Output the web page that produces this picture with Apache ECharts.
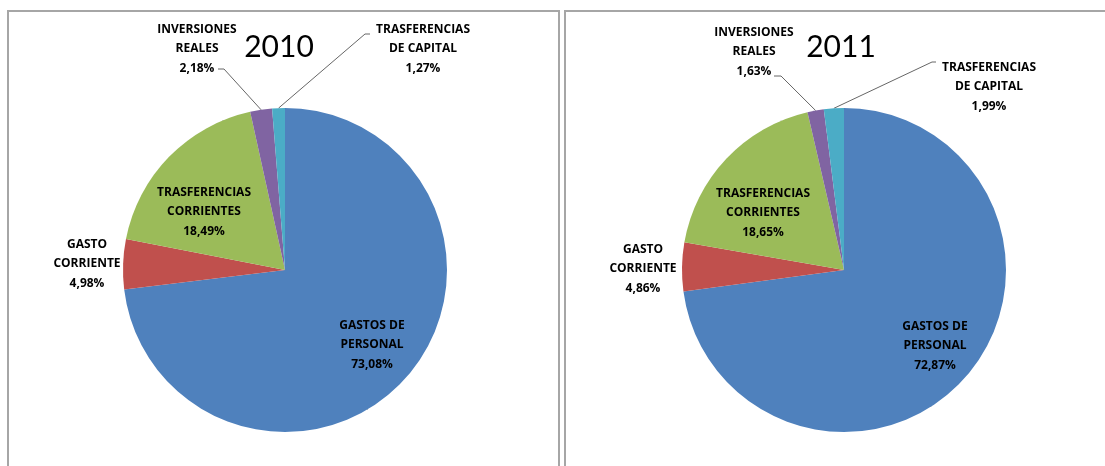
<!DOCTYPE html>
<html>
<head>
<meta charset="utf-8">
<title>Gastos 2010 - 2011</title>
<script src="https://cdn.jsdelivr.net/npm/echarts@6/dist/echarts.min.js"></script>
<style>
    html, body { margin: 0; padding: 0; background: #fff; }
    #chart { width: 1105px; height: 466px; }
</style>
</head>
<body>
<div id="chart"></div>
<script>
// categorias (el \n marca el corte de linea de la etiqueta)
const categorias = ['GASTOS DE\nPERSONAL', 'GASTO\nCORRIENTE', 'TRASFERENCIAS\nCORRIENTES', 'INVERSIONES\nREALES', 'TRASFERENCIAS\nDE CAPITAL']
const anios = ['2010', '2011']
const valores2010 = [73.08, 4.98, 18.49, 2.18, 1.27]
const valores2011 = [72.87, 4.86, 18.65, 1.63, 1.99]
const colores = ['#4F81BD', '#C0504D', '#9BBB59', '#8064A2', '#4BACC6']

// colocacion de cada tarta: centro, desplazamiento de etiquetas desde el centro,
// y lineas guia [dx enganche, dy, dx codo] relativas a la etiqueta
const tartas = [
    {
        centro: [285, 270],
        etiquetas: [[87, 75], [-198, -6], [-81, -58], [-88, -221], [138, -221]],
        guias: { 3: [21, 20, 27], 4: [-53, -15, -58] },
    },
    {
        centro: [844, 270],
        etiquetas: [[91, 76], [-201, -1], [-81, -57], [-90, -218], [145, -183]],
        guias: { 3: [20, 24, 27], 4: [-53, -25, -57] },
    },
]
const radio = 162
const fuente = '"Open Sans", Lato, sans-serif'

/* formato de la etiqueta: nombre + porcentaje con coma decimal */
function textoEtiqueta(p) {
    return p.name + '\n' + p.value.toFixed(2).replace('.', ',') + '%'
}

/* datos de una tarta */
function datosTarta(valores) {
    return valores.map((v, i) => {
        const item = { name: categorias[i], value: v, itemStyle: { color: colores[i] } }
        // las dos grandes van dentro, gasto corriente fuera sin guia
        if (i === 0 || i === 2) item.label = { position: 'inside' }
        if (i === 1) item.labelLine = { show: false }
        return item
    })
}

/* coloca las etiquetas como en la imagen */
function colocarEtiqueta(params) {
    const t = tartas[params.seriesIndex]
    const off = t.etiquetas[params.dataIndex]
    const x = t.centro[0] + off[0]
    const y = t.centro[1] + off[1]
    const res = { x: x, y: y, align: 'center', verticalAlign: 'middle' }
    const g = t.guias[params.dataIndex]
    if (g && params.labelLinePoints) {
        const p0 = params.labelLinePoints[0]
        res.labelLinePoints = [p0, [x + g[2], y + g[1]], [x + g[0], y + g[1]]]
    }
    return res
}

const series = [valores2010, valores2011].map((valores, k) => ({
    type: 'pie',
    center: tartas[k].centro,
    radius: [0, radio],
    startAngle: 90,
    clockwise: true,
    avoidLabelOverlap: false,
    minShowLabelAngle: 0,
    emphasis: { disabled: true },
    data: datosTarta(valores),
    label: {
        show: true,
        position: 'outside',
        formatter: textoEtiqueta,
        fontFamily: fuente,
        fontWeight: 'bold',
        fontSize: 12,
        lineHeight: 19.5,
        color: '#000',
        align: 'center',
    },
    labelLine: {
        show: true,
        length: 10,
        length2: 10,
        lineStyle: { color: '#666', width: 1 },
    },
    labelLayout: colocarEtiqueta,
}))

const myChart = echarts.init(document.getElementById('chart'), null, { renderer: 'canvas' })

myChart.setOption({
    animation: false,
    backgroundColor: '#fff',
    graphic: [
        // marcos de cada grafico
        { type: 'rect', shape: { x: 8, y: 11, width: 551, height: 480 }, style: { fill: 'none', stroke: '#a6a6a6', lineWidth: 2 }, silent: true },
        { type: 'rect', shape: { x: 565, y: 11, width: 560, height: 480 }, style: { fill: 'none', stroke: '#a6a6a6', lineWidth: 2 }, silent: true },
        // titulos
        { type: 'text', x: 279, y: 47, style: { text: anios[0], font: '30px Lato, sans-serif', fill: '#000', align: 'center', verticalAlign: 'middle' }, silent: true },
        { type: 'text', x: 841, y: 47, style: { text: anios[1], font: '30px Lato, sans-serif', fill: '#000', align: 'center', verticalAlign: 'middle' }, silent: true },
    ],
    series: series,
})
</script>
</body>
</html>
